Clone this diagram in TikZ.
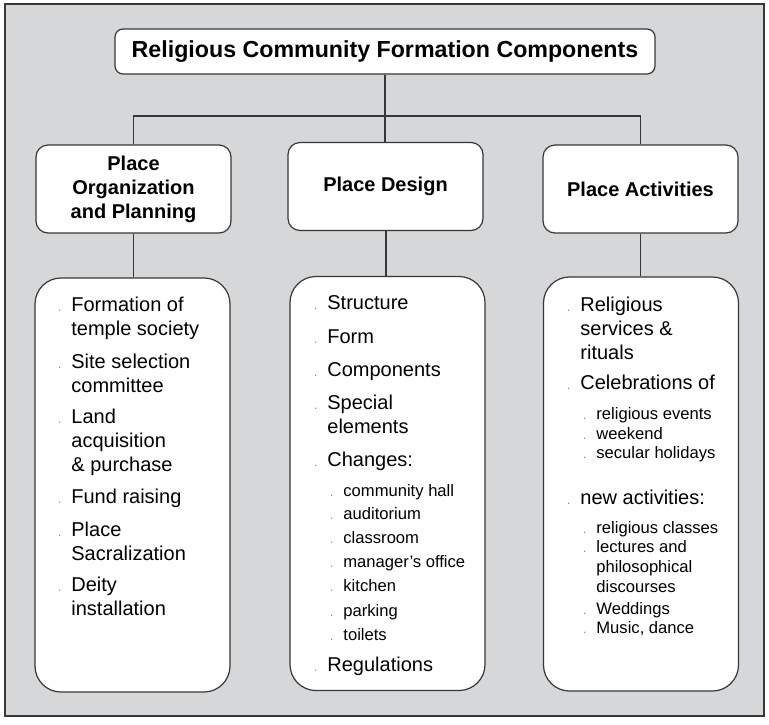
\documentclass[tikz,border=0pt]{standalone}
\usepackage{fontspec}
\setmainfont{Liberation Sans}
\definecolor{bggray}{RGB}{214,215,217}
\definecolor{linegray}{RGB}{55,55,55}
\definecolor{dotgray}{RGB}{130,130,130}
\newcommand{\bul}{\llap{\textcolor{dotgray}{\fontsize{6}{6}\selectfont.}\hspace{5pt}}}
\newcommand{\itm}[1]{\bul\begin{tabular}[t]{@{}l@{}}#1\end{tabular}}
\tikzset{
  frame/.style={draw=linegray, fill=bggray, line width=0.6pt},
  link/.style={draw=linegray, line width=0.6pt},
  titlebox/.style={draw=linegray, fill=white, line width=0.6pt, rounded corners=4pt,
    minimum width=270pt, minimum height=22.5pt, inner sep=0pt,
    font=\bfseries\fontsize{11.6}{14}\selectfont},
  headbox/.style={draw=linegray, fill=white, line width=0.6pt, rounded corners=6pt,
    minimum width=97.5pt, minimum height=44pt, inner sep=0pt, align=center,
    font=\bfseries\fontsize{10}{12}\selectfont},
  listbox/.style={draw=linegray, fill=white, line width=0.6pt, rounded corners=13pt,
    minimum width=97.5pt, minimum height=207pt, inner sep=0pt},
  item/.style={anchor=base west, inner sep=0pt, font=\fontsize{10}{12}\selectfont},
  subitem/.style={item, font=\fontsize{8.3}{10}\selectfont}
}
\begin{document}
\begin{tikzpicture}[x=0.5pt, y=-0.5pt]
    \useasboundingbox (0,0) rectangle (769,724) ;
    \draw [frame] (5,4) rectangle (764,716) ;

    % boxes
    \node [titlebox] (title) at (385,51.5) {Religious Community Formation Components} ;
    \node [headbox] (plan) at (133.5,189) {Place\\Organization\\and Planning} ;
    \node [headbox] (design) at (385.5,186.5) {Place Design} ;
    \node [headbox] (act) at (640.5,189) {Place Activities} ;
    \node [listbox] (planlist) at (132.5,485) {} ;
    \node [listbox] (designlist) at (387.5,483.5) {} ;
    \node [listbox] (actlist) at (641,484) {} ;

    % connectors
    \coordinate (bus) at (385,116) ;
    \draw [link] (title.south) -- (title.south |- design.north) ;
    \draw [link] (plan.north) |- (bus) -| (act.north) ;
    \draw [link] (plan.south) -- (plan.south |- planlist.north) ;
    \draw [link] (386,230) -- (386,277) ;
    \draw [link] (act.south) -- (act.south |- actlist.north) ;

    % left list
    \foreach \y/\txt [count=\i] in {311/{Formation of\\temple society}, 368/{Site selection\\committee},
        423/{Land\\acquisition\\\& purchase}, 503/{Fund raising}, 536/{Place\\Sacralization},
        591/{Deity\\installation}}
        \node [item] (plan\i) at (71,\y) {\itm{\txt}} ;

    % middle list
    \foreach \y/\txt [count=\i] in {309/Structure, 343/Form, 376/Components,
        409/{Special\\elements}, 466/Changes:, 671/Regulations}
        \node [item] (design\i) at (327,\y) {\itm{\txt}} ;
    \foreach \y/\txt [count=\i] in {496/community hall, 519/auditorium, 543/classroom,
        567/manager's office, 591/kitchen, 616/parking, 640/toilets}
        \node [subitem] (change\i) at (343,\y) {\itm{\txt}} ;

    % right list
    \foreach \y/\txt [count=\i] in {311/{Religious\\services \&\\rituals}, 389/Celebrations of,
        504/new activities:}
        \node [item] (act\i) at (580,\y) {\itm{\txt}} ;
    \foreach \y/\txt [count=\i] in {419/religious events, 439/weekend, 458/secular holidays,
        533/religious classes, 552/{lectures and\\philosophical\\discourses},
        614/Weddings, 633/{Music, dance}}
        \node [subitem] (new\i) at (596,\y) {\itm{\txt}} ;
\end{tikzpicture}
\end{document}
